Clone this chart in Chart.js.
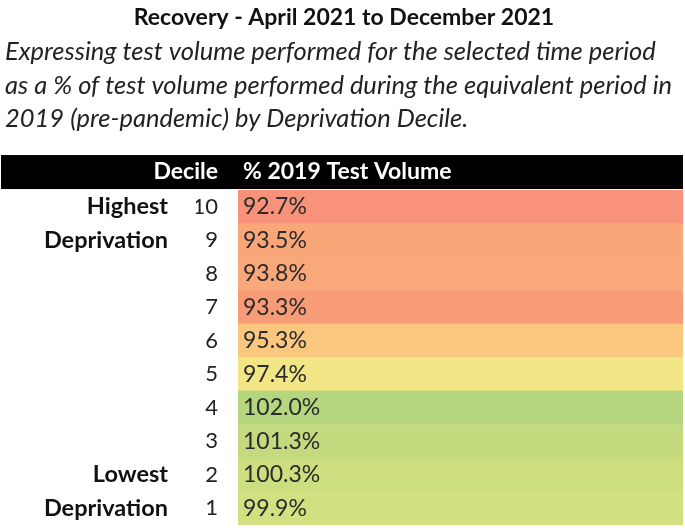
<!DOCTYPE html>
<html>
<head>
<meta charset="utf-8">
<script src="https://cdn.jsdelivr.net/npm/chart.js@4.4.1/dist/chart.umd.min.js"></script>
<style>
  html, body { margin: 0; padding: 0; background: #fff; }
  #wrap { width: 685px; height: 530px; }
</style>
</head>
<body>
<div id="wrap"><canvas id="chart"></canvas></div>
<script>
// table content
const deciles = ["10", "9", "8", "7", "6", "5", "4", "3", "2", "1"];
const groupLabels = ["Highest", "Deprivation", "", "", "", "", "", "", "Lowest", "Deprivation"];
const testVolume = [92.7, 93.5, 93.8, 93.3, 95.3, 97.4, 102.0, 101.3, 100.3, 99.9];
const cellColors = ["#f8927b", "#f9a679", "#f9a879", "#f89b77", "#f9c77d",
                    "#f2e585", "#b4d67e", "#c3da7f", "#cdde80", "#d3e081"];
const headerLabels = ["Decile", "% 2019 Test Volume"];
const titleText = "Recovery - April 2021 to December 2021";
const subtitleLines = [
  "Expressing test volume performed for the selected time period",
  "as a % of test volume performed during the equivalent period in",
  "2019 (pre-pandemic) by Deprivation Decile."
];

const FONT = "Lato, 'Open Sans', sans-serif";

// draws the black header row and the % values inside the cells
const tablePlugin = {
  id: "tableText",
  beforeDraw(chart) {
    const { ctx, chartArea } = chart;
    const yScale = chart.scales.y;
    const top = chartArea.top - 35;
    ctx.save();
    ctx.fillStyle = "#000";
    ctx.fillRect(1, top, chartArea.right - 1, 34);
    ctx.fillStyle = "#fff";
    ctx.font = "bold 23px " + FONT;
    ctx.textBaseline = "middle";
    ctx.textAlign = "right";
    ctx.fillText(headerLabels[0], yScale.right - yScale.options.ticks.padding, top + 17);
    ctx.textAlign = "left";
    ctx.fillText(headerLabels[1], chartArea.left + 5, top + 17);
    ctx.restore();
  },
  afterDatasetsDraw(chart) {
    const { ctx, chartArea } = chart;
    const meta = chart.getDatasetMeta(0);
    ctx.save();
    ctx.fillStyle = "#2b2b2b";
    ctx.font = "23px " + FONT;
    ctx.textBaseline = "middle";
    ctx.textAlign = "left";
    meta.data.forEach((bar, i) => {
      ctx.fillText(testVolume[i].toFixed(1) + "%", chartArea.left + 5, bar.y);
    });
    ctx.restore();
  }
};

// fixed column widths, and no extra vertical padding from the tick labels
function fixWidth(w) {
  return (scale) => {
    scale.width = w;
    scale.paddingTop = 0;
    scale.paddingBottom = 0;
  };
}

new Chart(document.getElementById("chart"), {
  type: "bar",
  data: {
    labels: deciles,
    datasets: [{
      data: testVolume.map(() => [0, 1]),
      backgroundColor: cellColors,
      borderWidth: 0,
      barPercentage: 1,
      categoryPercentage: 1
    }]
  },
  options: {
    indexAxis: "y",
    responsive: true,
    maintainAspectRatio: false,
    animation: false,
    layout: { padding: { left: 5, right: 2, top: 0, bottom: 5 } },
    plugins: {
      legend: { display: false },
      tooltip: { enabled: false },
      title: {
        display: true,
        text: titleText,
        color: "#111",
        font: { family: FONT, size: 23, weight: "bold", lineHeight: 1.2 },
        padding: { top: 4, bottom: 2 }
      },
      subtitle: {
        display: true,
        text: subtitleLines,
        align: "start",
        color: "#222",
        font: { family: FONT, size: 25.5, style: "italic", lineHeight: 1.3 },
        padding: { top: 2, bottom: 55 }
      }
    },
    scales: {
      x: { type: "linear", min: 0, max: 1, display: false },
      y: {
        type: "category",
        position: "left",
        offset: true,
        weight: 0,
        grid: { display: false, drawTicks: false },
        border: { display: false },
        ticks: { color: "#222", autoSkip: false, padding: 20, font: { family: FONT, size: 22 } },
        afterFit: fixWidth(42)
      },
      group: {
        type: "category",
        labels: groupLabels,
        position: "left",
        offset: true,
        weight: 1,
        grid: { display: false, drawTicks: false },
        border: { display: false },
        ticks: { color: "#111", autoSkip: false, padding: 28, font: { family: FONT, size: 23.5, weight: "bold" } },
        afterFit: fixWidth(191)
      }
    }
  },
  plugins: [tablePlugin]
});
</script>
</body>
</html>
